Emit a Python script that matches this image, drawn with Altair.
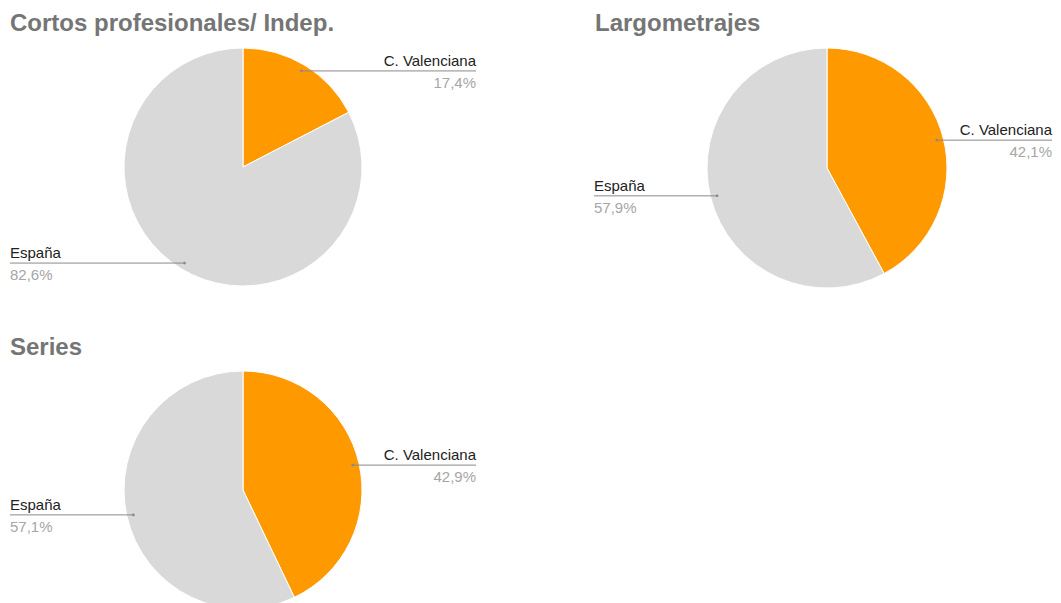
import altair as alt
import pandas as pd

# ---- data ----
panels = ["Cortos profesionales/ Indep.", "Largometrajes", "Series"]
categories = ["C. Valenciana", "España"]
valenciana = [17.4, 42.1, 42.9]
espana = [82.6, 57.9, 57.1]

rows = []
for i, p in enumerate(panels):
    for j, (cat, val) in enumerate(zip(categories, [valenciana[i], espana[i]])):
        rows.append({"panel": p, "category": cat, "value": val, "idx": j,
                     "pct": f"{val:.1f}".replace(".", ",") + "%"})
df = pd.DataFrame(rows)

# ---- layout (page pixels) ----
OFF = 8
layout = {
    panels[0]: dict(cx=243, cy=167, r=119, left=10, right=476, tx=10, ty=31),
    panels[1]: dict(cx=827, cy=168, r=120, left=594, right=1052, tx=595, ty=31),
    panels[2]: dict(cx=243, cy=490, r=119, left=10, right=476, tx=10, ty=355),
}
ORANGE = "#FF9900"
GRAY = "#D9D9D9"
FONT = "Liberation Sans"

layers = []
for p in panels:
    L = layout[p]
    cx, cy = L["cx"] - OFF, L["cy"] - OFF
    lead = L["r"] * 0.945
    right, left = L["right"] - OFF, L["left"] - OFF

    pie = alt.Chart(df).transform_filter(alt.datum.panel == p).mark_arc(
        radius=L["r"], stroke="white", strokeWidth=1
    ).encode(
        theta=alt.Theta("value:Q", stack=True),
        color=alt.Color("category:N", scale=alt.Scale(domain=categories, range=[ORANGE, GRAY]), legend=None),
        order=alt.Order("idx:Q"),
        x=alt.value(cx), y=alt.value(cy),
    )

    base = alt.Chart(df).transform_filter(alt.datum.panel == p).transform_window(
        cum="sum(value)", sort=[alt.SortField("idx")]
    ).transform_joinaggregate(total="sum(value)").transform_calculate(
        a="2*PI*(datum.cum - datum.value/2)/datum.total"
    ).transform_calculate(
        lx=f"{cx} + {lead}*sin(datum.a)",
        ly=f"{cy} - {lead}*cos(datum.a)",
        ex=f"datum.idx == 0 ? {right} : {left}",
    ).transform_calculate(
        ny="datum.ly - 5", py="datum.ly + 17"
    )

    rule = base.mark_rule(color="#8a8a8a", strokeWidth=1).encode(
        x=alt.X("lx:Q", scale=None), x2="ex:Q", y=alt.Y("ly:Q", scale=None)
    )
    dot = base.mark_circle(size=8, color="#8a8a8a", opacity=1).encode(
        x=alt.X("lx:Q", scale=None), y=alt.Y("ly:Q", scale=None)
    )
    texts = []
    for idx, align in [(0, "right"), (1, "left")]:
        sub = base.transform_filter(alt.datum.idx == idx)
        texts.append(sub.mark_text(align=align, baseline="alphabetic", font=FONT, fontSize=15, color="#222222").encode(
            x=alt.X("ex:Q", scale=None), y=alt.Y("ny:Q", scale=None), text="category:N"))
        texts.append(sub.mark_text(align=align, baseline="alphabetic", font=FONT, fontSize=15, color="#a6a6a6").encode(
            x=alt.X("ex:Q", scale=None), y=alt.Y("py:Q", scale=None), text="pct:N"))

    title = alt.Chart(pd.DataFrame({"t": [p]})).mark_text(
        align="left", baseline="alphabetic", font=FONT, fontSize=24, fontWeight="bold", color="#757575"
    ).encode(x=alt.value(L["tx"] - OFF), y=alt.value(L["ty"] - OFF), text="t:N")

    layers += [pie, rule, dot] + texts + [title]

chart = alt.layer(*layers).resolve_scale(theta="independent").properties(
    width=1045, height=595, padding=0, autosize="none", background="white"
).configure_view(stroke=None)

chart.save("out.html", embed_options={"renderer": "svg", "actions": False})
